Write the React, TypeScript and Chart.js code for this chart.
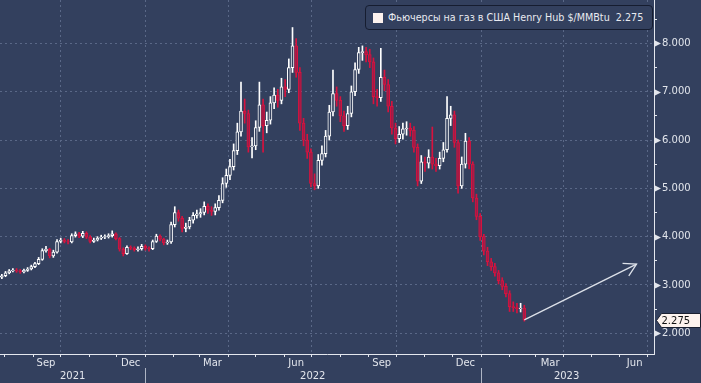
import React, { useEffect, useRef } from 'react';
import { Chart, registerables } from 'chart.js';

Chart.register(...registerables);

// ---- data ----
const seriesLabel = 'Фьючерсы на газ в США Henry Hub $/MMBtu';
const firstCandleDate = '2021-07-29';
const candleStepDays = 4;

const opens = [
  3.16, 3.19, 3.25, 3.29, 3.31, 3.29, 3.27, 3.30, 3.33, 3.38,
  3.44, 3.53, 3.71, 3.74, 3.60, 3.68, 3.90, 3.93, 3.90, 3.89,
  4.02, 4.06, 4.01, 4.07, 3.99, 3.90, 3.93, 3.97, 3.99, 4.00,
  4.02, 4.06, 3.96, 3.74, 3.65, 3.78, 3.76, 3.73, 3.75, 3.80,
  3.76, 3.75, 3.90, 4.01, 3.95, 3.87, 3.89, 4.25, 4.50, 4.38,
  4.17, 4.20, 4.34, 4.44, 4.47, 4.50, 4.63, 4.55, 4.52, 4.60,
  4.75, 5.10, 5.27, 5.45, 5.78, 6.17, 6.60, 6.55, 5.86, 5.88,
  6.26, 6.73, 6.30, 6.41, 6.77, 6.93, 6.82, 7.10, 7.05, 7.50,
  7.95, 7.40, 6.35, 6.00, 5.75, 5.10, 5.05, 5.58, 5.72, 6.08,
  6.58, 6.96, 6.82, 6.50, 6.30, 6.55, 7.00, 7.46, 7.81, 7.83,
  7.77, 7.62, 6.90, 6.88, 7.30, 7.15, 6.70, 6.25, 6.03, 6.12,
  6.23, 6.25, 6.20, 5.85, 5.15, 5.55, 5.52, 5.65, 5.50, 5.47,
  5.62, 5.80, 6.45, 6.52, 5.95, 5.05, 5.50, 5.98, 5.50, 4.80,
  4.42, 4.00, 3.70, 3.48, 3.38, 3.25, 3.09, 2.97, 2.82, 2.55,
  2.53, 2.51, 2.52,
];
const highs = [
  3.22, 3.28, 3.32, 3.34, 3.34, 3.32, 3.33, 3.36, 3.41, 3.47,
  3.57, 3.75, 3.80, 3.76, 3.72, 3.94, 3.97, 3.96, 3.94, 4.06,
  4.10, 4.09, 4.11, 4.10, 4.02, 3.97, 4.00, 4.03, 4.04, 4.06,
  4.12, 4.08, 3.98, 3.77, 3.81, 3.81, 3.79, 3.79, 3.84, 3.83,
  3.79, 3.93, 4.05, 4.04, 3.97, 3.93, 4.30, 4.62, 4.55, 4.42,
  4.28, 4.40, 4.50, 4.55, 4.58, 4.72, 4.68, 4.62, 4.68, 4.85,
  5.22, 5.40, 5.60, 5.92, 6.35, 7.20, 6.85, 6.62, 6.05, 6.40,
  7.20, 6.85, 6.58, 6.90, 7.08, 7.05, 7.28, 7.25, 7.68, 8.33,
  8.10, 7.50, 6.45, 6.12, 5.82, 5.30, 5.70, 5.88, 6.20, 6.72,
  7.45, 7.10, 6.90, 6.60, 6.70, 7.12, 7.60, 7.92, 7.95, 7.92,
  7.88, 7.70, 7.05, 7.90, 7.45, 7.25, 6.80, 6.35, 6.28, 6.35,
  6.38, 6.35, 6.28, 5.92, 5.68, 5.65, 5.80, 6.27, 5.62, 5.75,
  5.95, 6.90, 6.70, 6.60, 6.00, 5.65, 6.14, 6.05, 5.55, 4.88,
  4.48, 4.05, 3.78, 3.55, 3.45, 3.30, 3.15, 3.03, 2.88, 2.65,
  2.62, 2.62, 2.58,
];
const lows = [
  3.13, 3.17, 3.23, 3.27, 3.26, 3.24, 3.25, 3.28, 3.31, 3.36,
  3.42, 3.51, 3.68, 3.56, 3.57, 3.66, 3.87, 3.87, 3.85, 3.87,
  3.99, 3.98, 3.98, 3.96, 3.87, 3.88, 3.91, 3.94, 3.96, 3.97,
  3.99, 3.93, 3.70, 3.60, 3.63, 3.73, 3.70, 3.70, 3.72, 3.72,
  3.70, 3.73, 3.88, 3.91, 3.83, 3.84, 3.86, 4.20, 4.32, 4.10,
  4.10, 4.16, 4.28, 4.38, 4.40, 4.45, 4.48, 4.44, 4.45, 4.55,
  4.70, 5.02, 5.18, 5.38, 5.70, 6.08, 6.35, 5.75, 5.63, 5.80,
  6.18, 5.75, 6.15, 6.33, 6.65, 6.68, 6.75, 6.90, 6.98, 7.40,
  7.30, 6.20, 5.88, 5.62, 5.03, 4.97, 5.00, 5.48, 5.65, 6.00,
  6.50, 6.70, 6.38, 6.18, 6.22, 6.48, 6.92, 7.38, 7.65, 7.62,
  7.50, 6.75, 6.70, 6.80, 7.02, 6.58, 6.12, 5.92, 5.95, 6.02,
  6.10, 6.08, 5.75, 5.05, 5.10, 5.35, 5.42, 5.40, 5.35, 5.40,
  5.55, 5.75, 6.30, 5.85, 4.90, 5.00, 5.42, 5.40, 4.72, 4.35,
  3.92, 3.62, 3.40, 3.30, 3.18, 3.02, 2.90, 2.75, 2.45, 2.45,
  2.42, 2.44, 2.25,
];
const closes = [
  3.19, 3.25, 3.29, 3.31, 3.29, 3.27, 3.30, 3.33, 3.38, 3.44,
  3.53, 3.71, 3.74, 3.60, 3.68, 3.90, 3.93, 3.90, 3.89, 4.02,
  4.06, 4.01, 4.07, 3.99, 3.90, 3.93, 3.97, 3.99, 4.00, 4.02,
  4.06, 3.96, 3.74, 3.65, 3.78, 3.76, 3.73, 3.75, 3.80, 3.76,
  3.75, 3.90, 4.01, 3.95, 3.87, 3.89, 4.25, 4.50, 4.38, 4.17,
  4.20, 4.34, 4.44, 4.47, 4.50, 4.63, 4.55, 4.52, 4.60, 4.75,
  5.10, 5.27, 5.45, 5.78, 6.17, 6.60, 6.55, 5.86, 5.88, 6.26,
  6.73, 6.30, 6.41, 6.77, 6.93, 6.82, 7.10, 7.05, 7.50, 7.95,
  7.40, 6.35, 6.00, 5.75, 5.10, 5.05, 5.58, 5.72, 6.08, 6.58,
  6.96, 6.82, 6.50, 6.30, 6.55, 7.00, 7.46, 7.81, 7.83, 7.77,
  7.62, 6.90, 6.88, 7.30, 7.15, 6.70, 6.25, 6.03, 6.12, 6.23,
  6.25, 6.20, 5.85, 5.15, 5.55, 5.52, 5.65, 5.50, 5.47, 5.62,
  5.80, 6.45, 6.52, 5.95, 5.05, 5.50, 5.98, 5.50, 4.80, 4.42,
  4.00, 3.70, 3.48, 3.38, 3.25, 3.09, 2.97, 2.82, 2.55, 2.53,
  2.51, 2.52, 2.275,
];

// arrow annotation (from last close towards the expected level)
const arrowDates = ['2023-02-17', '2023-06-19'];
const arrowValues = [2.275, 3.43];

// axes
const axisStart = '2021-07-27';
const axisEnd = '2023-07-08';
const monthTickDates = [
  '2021-08-01', '2021-09-01', '2021-10-01', '2021-11-01', '2021-12-01',
  '2022-01-01', '2022-02-01', '2022-03-01', '2022-04-01', '2022-05-01', '2022-06-01',
  '2022-07-01', '2022-08-01', '2022-09-01', '2022-10-01', '2022-11-01', '2022-12-01',
  '2023-01-01', '2023-02-01', '2023-03-01', '2023-04-01', '2023-05-01', '2023-06-01', '2023-07-01',
];
const gridDates = ['2021-10-01', '2022-01-01', '2022-04-01', '2022-07-01', '2022-10-01', '2023-01-01', '2023-04-01', '2023-07-01'];
const monthLabels = ['Sep', 'Dec', 'Mar', 'Jun', 'Sep', 'Dec', 'Mar', 'Jun'];
const monthLabelDates = ['2021-09-15', '2021-12-16', '2022-03-15', '2022-06-14', '2022-09-15', '2022-12-15', '2023-03-17', '2023-06-17'];
const yearLabels = ['2021', '2022', '2023'];
const yearLabelDates = ['2021-10-14', '2022-07-02', '2023-04-04'];
const yearBoundaryDates = ['2022-01-01', '2023-01-01'];
const priceTicks = [2, 2.5, 3, 3.5, 4, 4.5, 5, 5.5, 6, 6.5, 7, 7.5, 8, 8.5];
const priceLabelValues = [2, 3, 4, 5, 6, 7, 8];
const yMin = 1.57;
const yMax = 8.9;

// ---- styles ----
const BG = '#33405e';
const GRID = '#5a6887';
const AXIS = '#e4e7ee';
const LABEL = '#e2e5ec';
const UP = '#ffffff';
const DOWN_EDGE = '#d8123e';
const DOWN_FILL = '#a01c48';
const ARROW = '#dde1e9';
const FONT = '"DejaVu Sans", "Liberation Sans", sans-serif';

const dayNum = (s: string) => {
  const [y, m, d] = s.split('-').map(Number);
  return Date.UTC(y, m - 1, d) / 86400000;
};

export default function App() {
  const canvasRef = useRef<HTMLCanvasElement | null>(null);

  useEffect(() => {
    document.body.style.margin = '0';
    document.body.style.background = BG;
    const canvas = canvasRef.current;
    if (!canvas) return;

    const start = dayNum(firstCandleDate);
    const xs = closes.map((_, i) => start + i * candleStepDays);
    const up = closes.map((c, i) => c >= opens[i]);

    const monthSet = new Set(monthTickDates.map(dayNum));
    const gridSet = new Set(gridDates.map(dayNum));
    const monthLabelMap = new Map(monthLabelDates.map((d, i) => [dayNum(d), monthLabels[i]]));
    const yearLabelMap = new Map(yearLabelDates.map((d, i) => [dayNum(d), yearLabels[i]]));
    const yearBoundSet = new Set(yearBoundaryDates.map(dayNum));

    const xMonthTicks = [...monthSet, ...monthLabelMap.keys()].sort((a, b) => a - b);
    const xYearTicks = [...yearBoundSet, ...yearLabelMap.keys()].sort((a, b) => a - b);

    const overlayPlugin = {
      id: 'overlayMarks',
      afterDraw(chart: any) {
        const ctx = chart.ctx as CanvasRenderingContext2D;
        const yScale = chart.scales.y;
        ctx.save();
        // triangle markers on major price ticks
        ctx.fillStyle = LABEL;
        priceLabelValues.forEach((v) => {
          const py = Math.round(yScale.getPixelForValue(v)) + 0.5;
          const x0 = yScale.left + 1;
          ctx.beginPath();
          ctx.moveTo(x0, py - 3);
          ctx.lineTo(x0 + 6, py);
          ctx.lineTo(x0, py + 3);
          ctx.closePath();
          ctx.fill();
        });
        // arrow head
        const pts = chart.getDatasetMeta(2).data;
        if (pts.length >= 2) {
          const a = pts[pts.length - 2];
          const b = pts[pts.length - 1];
          const ang = Math.atan2(b.y - a.y, b.x - a.x);
          const len = 14;
          ctx.strokeStyle = ARROW;
          ctx.lineWidth = 1.3;
          ctx.beginPath();
          ctx.moveTo(b.x - len * Math.cos(ang - Math.PI / 6), b.y - len * Math.sin(ang - Math.PI / 6));
          ctx.lineTo(b.x, b.y);
          ctx.lineTo(b.x - len * Math.cos(ang + Math.PI / 6), b.y - len * Math.sin(ang + Math.PI / 6));
          ctx.stroke();
        }
        // last price tag
        const last = closes[closes.length - 1];
        const ty = Math.round(yScale.getPixelForValue(last)) + 0.5;
        const lx = yScale.left + 2.5;
        const right = chart.width - 0.5;
        ctx.beginPath();
        ctx.moveTo(lx, ty);
        ctx.lineTo(lx + 5, ty - 7);
        ctx.lineTo(right, ty - 7);
        ctx.lineTo(right, ty + 7);
        ctx.lineTo(lx + 5, ty + 7);
        ctx.closePath();
        ctx.fillStyle = '#fdf3ee';
        ctx.fill();
        ctx.strokeStyle = '#1a2030';
        ctx.lineWidth = 1;
        ctx.stroke();
        ctx.fillStyle = '#111111';
        ctx.font = `10px ${FONT}`;
        ctx.textAlign = 'left';
        ctx.textBaseline = 'middle';
        ctx.fillText(last.toFixed(3), lx + 5, ty + 0.5);
        ctx.restore();
      },
    };

    const chart = new Chart(canvas, {
      type: 'bar',
      data: {
        datasets: [
          {
            type: 'bar',
            label: 'wicks',
            data: xs.map((x, i) => ({ x, y: [lows[i], highs[i]] })) as any,
            backgroundColor: up.map((u) => (u ? UP : DOWN_EDGE)),
            borderWidth: 0,
            barThickness: 1,
            grouped: false,
            order: 3,
          },
          {
            type: 'bar',
            label: 'bodies',
            data: xs.map((x, i) => ({ x, y: [opens[i], closes[i]] })) as any,
            backgroundColor: up.map((u) => (u ? BG : DOWN_FILL)),
            borderColor: up.map((u) => (u ? UP : DOWN_EDGE)),
            borderWidth: 1,
            borderSkipped: false,
            barThickness: 3,
            grouped: false,
            order: 2,
          },
          {
            type: 'line',
            label: 'arrow',
            data: arrowDates.map((d, i) => ({ x: dayNum(d), y: arrowValues[i] })) as any,
            borderColor: ARROW,
            borderWidth: 1.3,
            pointRadius: 0,
            fill: false,
            order: 1,
          },
        ],
      },
      options: {
        responsive: false,
        animation: false,
        devicePixelRatio: 1,
        events: [],
        layout: { padding: 0 },
        plugins: { legend: { display: false }, tooltip: { enabled: false }, title: { display: false } },
        scales: {
          x: {
            type: 'linear',
            position: 'bottom',
            weight: 0,
            min: dayNum(axisStart),
            max: dayNum(axisEnd),
            bounds: 'data',
            offset: false,
            afterBuildTicks: (s: any) => {
              s.ticks = xMonthTicks.map((v) => ({ value: v }));
            },
            afterFit: (s: any) => {
              s.height = 14;
              s.paddingLeft = 0;
              s.paddingRight = 0;
            },
            ticks: {
              autoSkip: false,
              maxRotation: 0,
              padding: 0,
              color: LABEL,
              font: { family: FONT, size: 10 },
              callback: (v: any) => monthLabelMap.get(v) ?? '',
            },
            grid: {
              offset: false,
              color: (c: any) => (c.tick && gridSet.has(c.tick.value) ? GRID : 'transparent'),
              tickColor: (c: any) => (c.tick && monthSet.has(c.tick.value) ? AXIS : 'transparent'),
              tickLength: 3,
              lineWidth: 1,
            },
            border: { display: true, color: AXIS, width: 1, dash: [2, 3] },
          },
          xYear: {
            type: 'linear',
            axis: 'x',
            position: 'bottom',
            weight: 1,
            min: dayNum(axisStart),
            max: dayNum(axisEnd),
            bounds: 'data',
            offset: false,
            afterBuildTicks: (s: any) => {
              s.ticks = xYearTicks.map((v) => ({ value: v }));
            },
            afterFit: (s: any) => {
              s.height = 15;
              s.paddingLeft = 0;
              s.paddingRight = 0;
            },
            ticks: {
              autoSkip: false,
              maxRotation: 0,
              padding: -13,
              color: LABEL,
              font: { family: FONT, size: 10 },
              callback: (v: any) => yearLabelMap.get(v) ?? '',
            },
            grid: {
              offset: false,
              drawOnChartArea: false,
              tickColor: (c: any) => (c.tick && yearBoundSet.has(c.tick.value) ? '#aeb5c4' : 'transparent'),
              tickLength: 15,
            },
            border: { display: false },
          },
          y: {
            type: 'linear',
            position: 'right',
            min: yMin,
            max: yMax,
            bounds: 'data',
            afterBuildTicks: (s: any) => {
              s.ticks = priceTicks.map((v) => ({ value: v }));
            },
            afterFit: (s: any) => {
              s.width = 47;
              s.paddingTop = 0;
              s.paddingBottom = 0;
            },
            ticks: {
              autoSkip: false,
              padding: 5,
              color: LABEL,
              font: { family: FONT, size: 10 },
              callback: (v: any) => (priceLabelValues.includes(v) ? Number(v).toFixed(3) : ''),
            },
            grid: {
              color: (c: any) => (c.tick && priceLabelValues.includes(c.tick.value) ? GRID : 'transparent'),
              tickColor: AXIS,
              tickLength: 3,
              lineWidth: 1,
            },
            border: { display: true, color: AXIS, width: 1, dash: [2, 3] },
          },
        },
      } as any,
      plugins: [overlayPlugin as any],
    });

    return () => {
      chart.destroy();
    };
  }, []);

  const lastClose = closes[closes.length - 1];

  return (
    <div style={{ position: 'relative', width: 701, height: 383, background: BG, overflow: 'hidden' }}>
      <canvas ref={canvasRef} width={701} height={383} style={{ display: 'block' }} />
      <div
        style={{
          position: 'absolute',
          left: 365,
          top: 5,
          width: 288,
          height: 25,
          boxSizing: 'border-box',
          border: '1px solid #161d30',
          borderRadius: 4,
          background: BG,
          display: 'flex',
          alignItems: 'center',
          fontFamily: FONT,
          fontSize: 9.6,
          color: '#e8eaf0',
          whiteSpace: 'pre',
          overflow: 'hidden',
        }}
      >
        <span style={{ display: 'inline-block', flexShrink: 0, width: 10, height: 10, background: '#fdf2ee', marginLeft: 7, marginRight: 5 }} />
        <span style={{ flexShrink: 0 }}>{`${seriesLabel}  ${lastClose.toFixed(3)}`}</span>
      </div>
    </div>
  );
}
